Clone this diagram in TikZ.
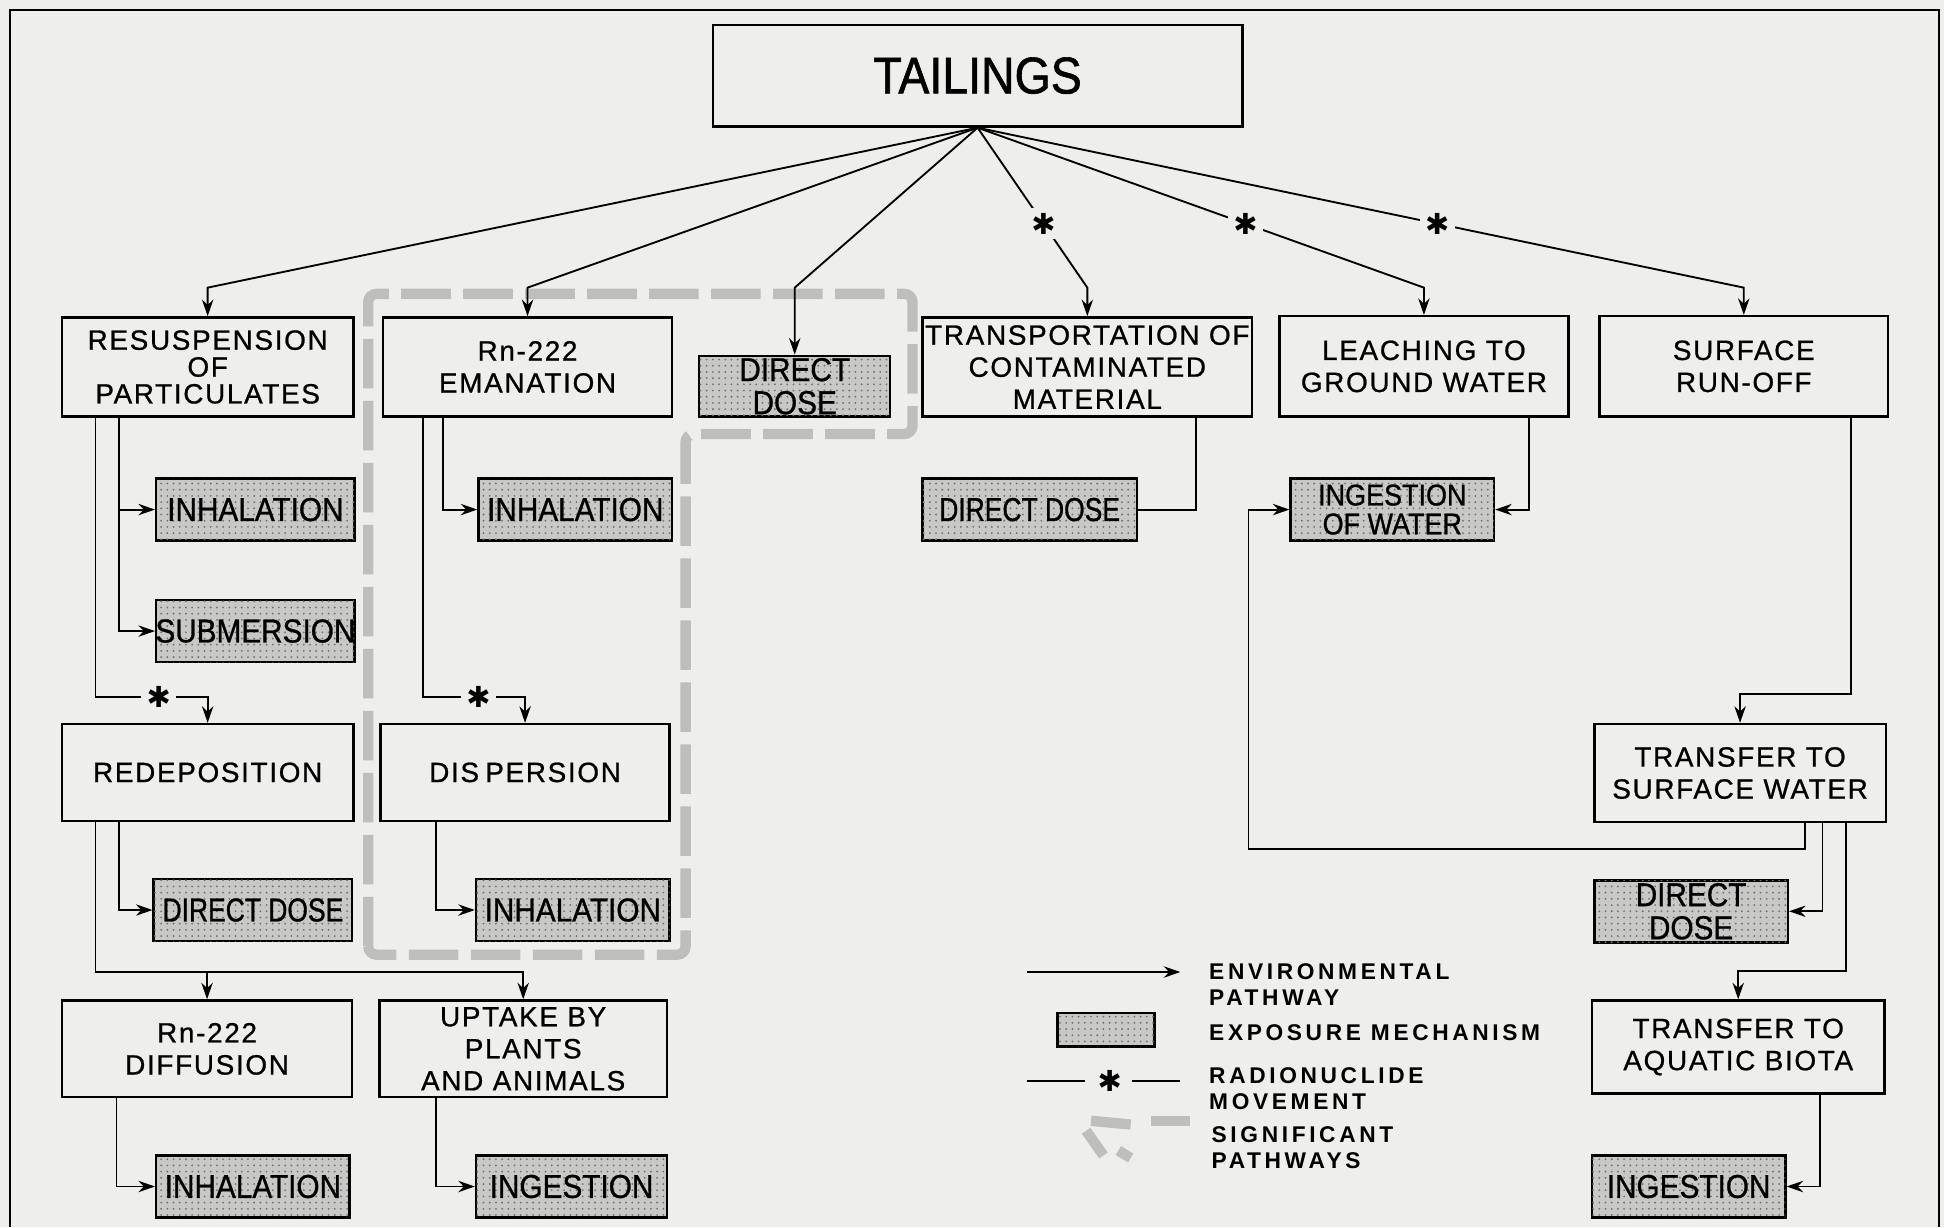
\documentclass[tikz,border=0pt]{standalone}
\usepackage{fontspec}
\setmainfont{Liberation Sans}
\newfontfamily\bxfont{Liberation Sans}[LetterSpace=6,FakeBold=0.8]
\newfontfamily\shfont{Liberation Sans}[FakeStretch=0.9,FakeBold=0.8]
\newfontfamily\shnfont{Liberation Sans}[FakeStretch=0.8,FakeBold=0.8]
\newfontfamily\tlfont{Liberation Sans}[FakeStretch=0.9,FakeBold=1.2]
\newfontfamily\lgfont{Liberation Sans}[LetterSpace=16]
\newfontfamily\djv{DejaVu Sans}
\usetikzlibrary{arrows.meta,fit,patterns}
\definecolor{bg}{RGB}{238,238,236}
\definecolor{shade}{RGB}{200,200,198}
\definecolor{bandc}{RGB}{190,190,188}
\newcommand\bx[8]{\node[#2, fit={(#4,#5)(#6,#7)}] (#1) {};
  \node[#3] (#1t) at (#1.center) {#8};}
\newcommand\staricon{✱}
\begin{document}
\begin{tikzpicture}[x=0.6pt,y=-0.6pt,
  box/.style={draw, line width=1.2pt, inner sep=0pt},
  shd/.style={draw, line width=1.2pt, fill=shade, inner sep=0pt,
    postaction={pattern=dots, pattern color=black!55}},
  bt/.style={font={\bxfont\fontsize{13.5}{15.5}\selectfont}, align=center, inner sep=0pt},
  btt/.style={font={\bxfont\fontsize{13.5}{13}\selectfont}, align=center, inner sep=0pt},
  tt/.style={font={\tlfont\fontsize{25}{25}\selectfont}, align=center, inner sep=0pt},
  st/.style={font={\shfont\fontsize{16}{16}\selectfont}, align=center, inner sep=0pt},
  stn/.style={font={\shnfont\fontsize{16}{16}\selectfont}, align=center, inner sep=0pt},
  st2/.style={font={\shfont\fontsize{14.5}{14}\selectfont}, align=center, inner sep=0pt},
  arr/.style={line width=0.9pt, -{Stealth[length=8pt,width=5.5pt]}},
  ln/.style={line width=0.9pt},
  starn/.style={fill=bg, inner sep=2.5pt, font={\djv\bfseries\fontsize{14}{14}\selectfont}},
  band/.style={line width=5pt, draw=bandc, dash pattern=on 24pt off 6pt, rounded corners=4pt},
  lgtxt/.style={font={\lgfont\bfseries\fontsize{11}{12.6}\selectfont}, align=left, inner sep=0pt, anchor=west}]
\useasboundingbox (0,0) rectangle (1568,990);
\fill[bg] (0,0) rectangle (1568,990);
% frame
\draw[line width=1.2pt] (8,990) -- (8,8) -- (1564,8) -- (1564,990);
% significant pathway band
\draw[band] (297,770) -- (297,237) -- (736,237) -- (736,350) -- (553,350) -- (553,770) -- cycle;
% boxes
\bx{tail}{box}{tt}{575}{20}{1002}{102}{TAILINGS}
\bx{res}{box}{btt}{50}{256}{285}{336}{RESUSPENSION\\OF\\PARTICULATES}
\bx{ema}{box}{bt}{309}{256}{542}{336}{Rn-222\\EMANATION}
\bx{dd0}{shd}{st}{564}{287}{718}{336}{DIRECT\\DOSE}
\bx{trans}{box}{bt}{744}{256}{1010}{336}{TRANSPORTATION OF\\CONTAMINATED\\MATERIAL}
\bx{leach}{box}{bt}{1032}{255}{1265}{336}{LEACHING TO\\GROUND WATER}
\bx{surf}{box}{bt}{1290}{255}{1523}{336}{SURFACE\\RUN-OFF}
\bx{inh1}{shd}{st}{126}{386}{286}{436}{INHALATION}
\bx{inh2}{shd}{st}{386}{386}{542}{436}{INHALATION}
\bx{dd2}{shd}{stn}{744}{386}{917}{436}{DIRECT DOSE}
\bx{ingw}{shd}{st2}{1041}{386}{1205}{436}{INGESTION\\OF WATER}
\bx{sub}{shd}{st}{126}{484}{286}{534}{SUBMERSION}
\bx{redep}{box}{bt}{50}{584}{285}{662}{REDEPOSITION}
\bx{disp}{box}{bt}{307}{584}{540}{662}{DIS\kern3pt PERSION}
\bx{tsw}{box}{bt}{1286}{584}{1521}{663}{TRANSFER TO\\SURFACE WATER}
\bx{dd1}{shd}{stn}{124}{709}{284}{759}{DIRECT DOSE}
\bx{inh3}{shd}{st}{384}{709}{540}{759}{INHALATION}
\bx{dd3}{shd}{st}{1286}{710}{1442}{760}{DIRECT\\DOSE}
\bx{diff}{box}{bt}{50}{807}{284}{885}{Rn-222\\DIFFUSION}
\bx{upt}{box}{bt}{306}{807}{538}{885}{UPTAKE BY\\PLANTS\\AND ANIMALS}
\bx{tab}{box}{bt}{1284}{807}{1520}{882}{TRANSFER TO\\AQUATIC BIOTA}
\bx{inh4}{shd}{st}{126}{932}{282}{982}{INHALATION}
\bx{ing1}{shd}{st}{384}{932}{538}{982}{INGESTION}
\bx{ing2}{shd}{st}{1284}{932}{1440}{982}{INGESTION}
% fan from tailings
\coordinate (b1) at (res.north |- 0,232);
\coordinate (b2) at (ema.north |- 0,232);
\coordinate (b3) at (dd0.north |- 0,232);
\coordinate (b4) at (trans.north |- 0,232);
\coordinate (b5) at (leach.north |- 0,232);
\coordinate (b6) at (surf.north |- 0,232);
\draw[arr] (tail.south) -- (b1) -- (res.north);
\draw[arr] (tail.south) -- (b2) -- (ema.north);
\draw[arr] (tail.south) -- (b3) -- (dd0.north);
\draw[arr] (tail.south) -- node[starn, pos=0.6] (s1) {\staricon} (b4) -- (trans.north);
\draw[arr] (tail.south) -- node[starn, pos=0.6] (s2) {\staricon} (b5) -- (leach.north);
\draw[arr] (tail.south) -- node[starn, pos=0.6] (s3) {\staricon} (b6) -- (surf.north);
% resuspension
\draw[arr] (res.south -| 96,0) |- (inh1.west);
\draw[arr] (res.south -| 96,0) |- (sub.west);
\draw[arr] (res.south -| 77,0) |- (redep.north |- 0,562) -- (redep.north);
\node[starn] (s4) at (128,562) {\staricon};
% emanation
\draw[arr] (ema.south -| 357,0) |- (inh2.west);
\draw[arr] (ema.south -| 341,0) |- (disp.north |- 0,562) -- (disp.north);
\node[starn] (s5) at (386,562) {\staricon};
% redeposition
\draw[arr] (redep.south -| 96,0) |- (dd1.west);
\draw[arr] (redep.south -| 77,0) |- (upt.north |- 0,784) -- (upt.north);
\draw[arr] (diff.north |- 0,784) -- (diff.north);
% dispersion
\draw[arr] (disp.south -| 352,0) |- (inh3.west);
% diffusion, uptake
\draw[arr] (diff.south -| 94,0) |- (inh4.west);
\draw[arr] (upt.south -| 352,0) |- (ing1.west);
% right side
\draw[ln] (trans.south -| 965,0) |- (dd2.east);
\draw[arr] (leach.south -| 1233,0) |- (ingw.east);
\draw[arr] (surf.south -| 1493,0) |- (tsw.north |- 0,560) -- (tsw.north);
\coordinate (lp) at (1007,685);
\draw[arr] (tsw.south -| 1456,0) |- (lp) |- (ingw.west);
\draw[arr] (tsw.south -| 1470,0) |- (dd3.east);
\draw[arr] (tsw.south -| 1489,0) |- (tab.north |- 0,783) -- (tab.north);
\draw[arr] (tab.south -| 1468,0) |- (ing2.east);
% legend
\coordinate (la) at (828,784); \coordinate (lb) at (952,784);
\draw[arr] (la) -- (lb);
\node[shd, fit={(853,817)(931,844)}] (lgbox) {};
\coordinate (lc) at (828,872); \coordinate (ld) at (875,872);
\coordinate (le) at (913,872); \coordinate (lf) at (952,872);
\draw[ln] (lc) -- (ld); \draw[ln] (le) -- (lf);
\node[starn] (s6) at (895,872) {\staricon};
\draw[line width=5pt, bandc] (880,904) -- (912,907);
\draw[line width=5pt, bandc] (928,904) -- (960,904);
\draw[line width=5pt, bandc] (876,912) -- (890,932);
\draw[line width=5pt, bandc] (902,928) -- (912,934);
\node[lgtxt] (lg1) at (975,794.5) {ENVIRONMENTAL\\PATHWAY};
\node[lgtxt] (lg2) at (975,833) {EXPOSURE MECHANISM};
\node[lgtxt] (lg3) at (975,878) {RADIONUCLIDE\\MOVEMENT};
\node[lgtxt] (lg4) at (977,926) {SIGNIFICANT\\PATHWAYS};
\end{tikzpicture}
\end{document}
